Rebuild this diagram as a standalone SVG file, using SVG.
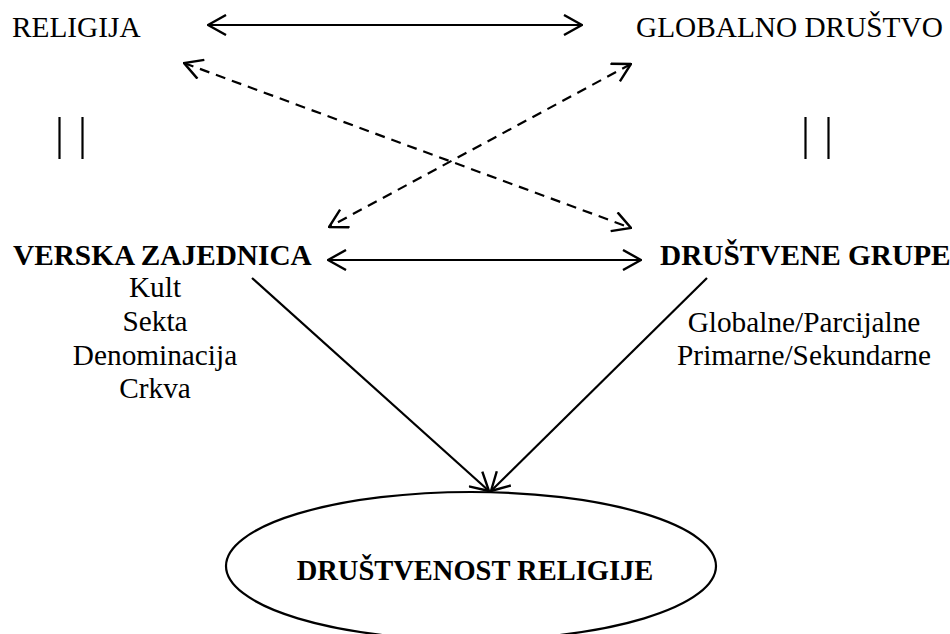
<svg xmlns="http://www.w3.org/2000/svg" width="950" height="634" viewBox="0 0 950 634">
<style>
text{font-family:"Liberation Serif","Times New Roman",serif;fill:#000}
.t{font-size:29.3px}
.b{font-size:29.3px;font-weight:bold}
.e{font-size:28.5px;font-weight:bold}
.c{stroke:#000;stroke-width:2.2;fill:none}
.d{stroke-dasharray:10 7}
</style>
<defs>
<marker id="ah" viewBox="0 0 20 22" refX="19" refY="11" markerWidth="20" markerHeight="22" markerUnits="userSpaceOnUse" orient="auto-start-reverse">
<path d="M1,1 L19,11 L1,21" fill="none" stroke="#000" stroke-width="2.4"/>
</marker>
</defs>
<rect width="950" height="634" fill="#fff"/>
<g id="religija"><text class="t" x="12" y="37">RELIGIJA</text></g>
<g id="globalno"><text class="t" x="636" y="37">GLOBALNO DRUŠTVO</text></g>
<g id="bars-left"><line class="c" x1="59.5" y1="117" x2="59.5" y2="159"/><line class="c" x1="82.5" y1="117" x2="82.5" y2="159"/></g>
<g id="bars-right"><line class="c" x1="805.5" y1="117" x2="805.5" y2="159"/><line class="c" x1="828.5" y1="117" x2="828.5" y2="159"/></g>
<g id="verska">
<text class="b" x="13" y="265">VERSKA ZAJEDNICA</text>
<text class="t" x="155" y="297" text-anchor="middle">Kult</text>
<text class="t" x="155" y="331" text-anchor="middle">Sekta</text>
<text class="t" x="155" y="365" text-anchor="middle">Denominacija</text>
<text class="t" x="155" y="398" text-anchor="middle">Crkva</text>
</g>
<g id="grupe">
<text class="b" x="660" y="265">DRUŠTVENE GRUPE</text>
<text class="t" x="804" y="332" text-anchor="middle">Globalne/Parcijalne</text>
<text class="t" x="804" y="365" text-anchor="middle">Primarne/Sekundarne</text>
</g>
<g id="drustvenost">
<ellipse class="c" cx="471" cy="566" rx="245" ry="74"/>
<text class="e" x="475" y="580" text-anchor="middle">DRUŠTVENOST RELIGIJE</text>
</g>
<g id="connectors">
<line class="c" x1="208" y1="25" x2="582" y2="25" marker-start="url(#ah)" marker-end="url(#ah)"/>
<line class="c d" x1="184" y1="63" x2="631" y2="228" marker-start="url(#ah)" marker-end="url(#ah)"/>
<line class="c d" x1="631" y1="64" x2="329" y2="227" marker-start="url(#ah)" marker-end="url(#ah)"/>
<line class="c" x1="328" y1="260" x2="641" y2="260" marker-start="url(#ah)" marker-end="url(#ah)"/>
<line class="c" x1="252" y1="278" x2="489" y2="491" marker-end="url(#ah)"/>
<line class="c" x1="707" y1="278" x2="491" y2="491" marker-end="url(#ah)"/>
</g>
</svg>
